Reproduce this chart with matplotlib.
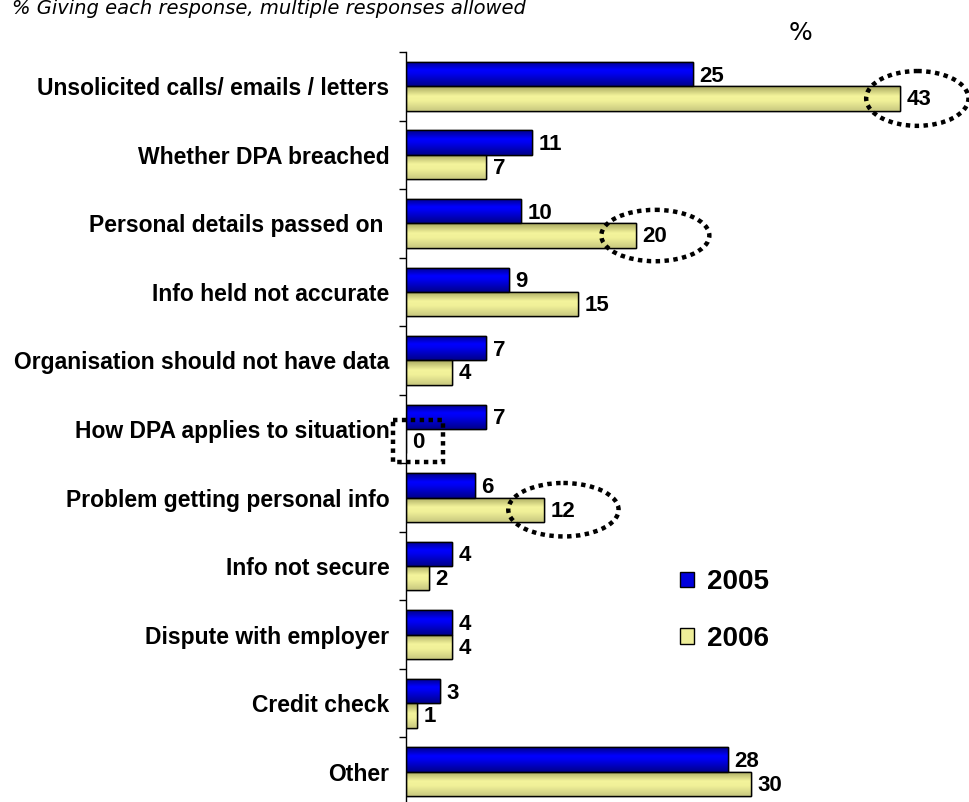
import matplotlib
matplotlib.use("Agg")
import matplotlib.pyplot as plt
from matplotlib.patches import Ellipse, Rectangle, Patch
from matplotlib.colors import LinearSegmentedColormap
import numpy as np

categories = ["Unsolicited calls/ emails / letters", "Whether DPA breached",
              "Personal details passed on ", "Info held not accurate",
              "Organisation should not have data", "How DPA applies to situation",
              "Problem getting personal info", "Info not secure",
              "Dispute with employer", "Credit check", "Other"]
values_2005 = [25, 11, 10, 9, 7, 7, 6, 4, 4, 3, 28]
values_2006 = [43, 7, 20, 15, 4, 0, 12, 2, 4, 1, 30]
series_names = ["2005", "2006"]

BLUE = "#0000DD"
YELLOW = "#EEEE99"
blue_cmap = LinearSegmentedColormap.from_list(
    "b", [(0, "#000088"), (0.35, "#0000FF"), (0.5, "#0000F0"), (1, "#00008C")])
yellow_cmap = LinearSegmentedColormap.from_list(
    "y", [(0, "#A8A860"), (0.4, "#F4F49C"), (0.6, "#F0F098"), (1, "#C8C880")])

fig = plt.figure(figsize=(9.7, 8.02), dpi=100)
ax = fig.add_axes([406/970, -4/802, 1 - 406/970, (806-52)/802])

y = np.arange(len(categories))
h = 0.355
bars1 = ax.barh(y - h/2, values_2005, height=h, color=BLUE, edgecolor="black", linewidth=1.0)
bars2 = ax.barh(y + h/2, values_2006, height=h, color=YELLOW, edgecolor="black", linewidth=1.0)

ax.set_xlim(0, (970-406)/11.49)
ax.set_ylim(len(categories) - 0.5, -0.5)

grad = np.linspace(0, 1, 64).reshape(-1, 1)
for bars, cmap in ((bars1, blue_cmap), (bars2, yellow_cmap)):
    for b in bars:
        x0, y0 = b.get_x(), b.get_y()
        w, hh = b.get_width(), b.get_height()
        if w <= 0:
            continue
        im = ax.imshow(grad, cmap=cmap, aspect="auto", extent=(x0, x0 + w, y0 + hh, y0),
                       interpolation="bilinear", zorder=b.get_zorder() + 0.1)
        im.set_clip_path(b)
        ax.add_patch(Rectangle((x0, y0), w, hh, fill=False, edgecolor="black",
                               linewidth=1.0, zorder=b.get_zorder() + 0.2))

ax.set_xlim(0, (970-406)/11.49)
ax.set_ylim(len(categories) - 0.5, -0.5)
ax.set_aspect("auto")

lab_font = dict(family="Liberation Sans", weight="bold", size=16)
for yi, v in zip(y, values_2005):
    ax.text(v + 0.55, yi - h/2 + 0.03, str(v), va="center", ha="left", **lab_font)
for yi, v in zip(y, values_2006):
    ax.text(v + 0.55, yi + h/2 + 0.02, str(v), va="center", ha="left", **lab_font)

ax.set_yticks(y)
ax.set_yticklabels(categories, fontfamily="Liberation Sans", fontweight="bold", fontsize=16.5)
ax.tick_params(axis="y", which="major", length=0, pad=12)
ax.set_yticks(np.arange(len(categories) + 1) - 0.5, minor=True)
ax.tick_params(axis="y", which="minor", length=5, width=1, direction="out")
ax.set_xticks([])
for s in ["top", "right", "bottom"]:
    ax.spines[s].set_visible(False)
ax.spines["left"].set_linewidth(1.0)

# dotted highlight ellipses
ell_kw = dict(fill=False, edgecolor="black", linewidth=3.2, linestyle=(0, (1, 1)),
              clip_on=False, zorder=5)
ax.add_patch(Ellipse((43 + 1.5, 0 + h/2), 8.9, 0.80, **ell_kw))
ax.add_patch(Ellipse((20 + 1.7, 2 + h/2), 9.4, 0.75, **ell_kw))
ax.add_patch(Ellipse((12 + 1.7, 6 + h/2), 9.6, 0.78, **ell_kw))
ax.add_patch(Rectangle((-1.13, 5 + h/2 - 0.31), 4.35, 0.62, **ell_kw))

# legend
leg = ax.legend(handles=[Patch(facecolor=BLUE, edgecolor="black", label=series_names[0]),
                         Patch(facecolor=YELLOW, edgecolor="black", label=series_names[1])],
                loc="upper left", bbox_to_anchor=((661-406)/564, 1 - (550-52)/754),
                frameon=False, prop=dict(family="Liberation Sans", weight="bold", size=20),
                handlelength=0.5, handleheight=0.5, handletextpad=0.45, labelspacing=1.1,
                borderpad=0.2)

fig.text(789/970, 1 - 33/802, "%", family="DejaVu Sans", size=18,
         ha="left", va="center")
fig.text(12/970, 1 - 14/802, "% Giving each response, multiple responses allowed",
         family="DejaVu Sans", style="italic", size=14, ha="left", va="baseline")

fig.savefig("out.png", dpi=100)
